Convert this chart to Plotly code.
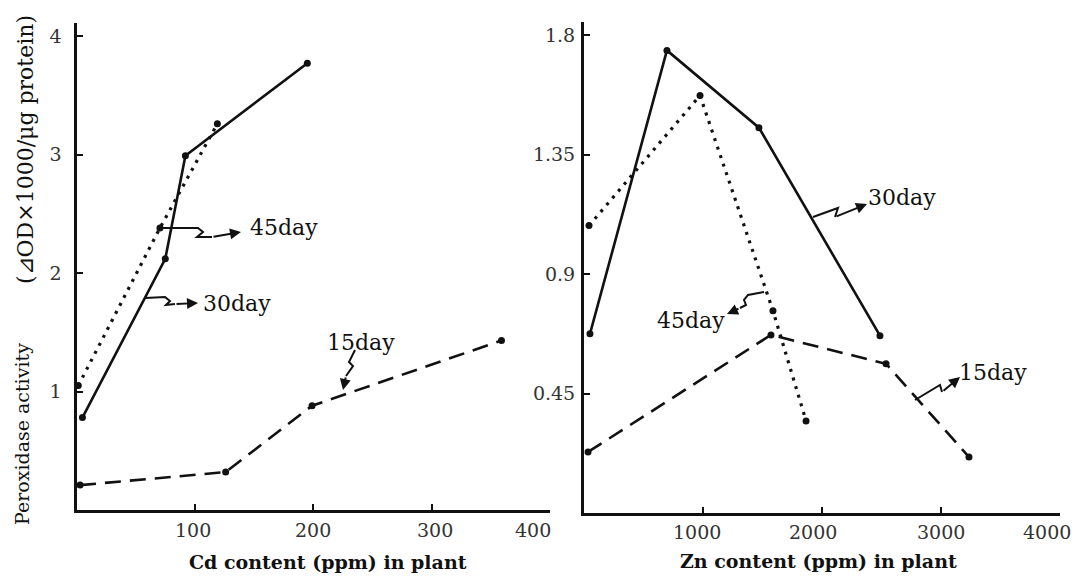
import plotly.graph_objects as go

# ---------------- data ----------------
cd_30_x = [5, 75, 92, 195]
cd_30_y = [0.78, 2.12, 2.99, 3.77]
cd_45_x = [1.5, 70.5, 119]
cd_45_y = [1.05, 2.38, 3.26]
cd_15_x = [3, 126, 199, 359]
cd_15_y = [0.21, 0.32, 0.88, 1.43]

zn_30_x = [50, 697, 1470, 2487]
zn_30_y = [0.675, 1.743, 1.452, 0.668]
zn_45_x = [42, 975, 1588, 1866]
zn_45_y = [1.083, 1.573, 0.762, 0.347]
zn_15_x = [34, 1571, 2538, 3235]
zn_15_y = [0.230, 0.671, 0.562, 0.211]

cd_ticks = [100, 200, 300, 400]
cd_ticktext = ["100", "200", "300", "400"]
cd_yticks = [1, 2, 3, 4]
cd_yticktext = ["1", "2", "3", "4"]
zn_ticks = [1000, 2000, 3000, 4000]
zn_ticktext = ["1000", "2000", "3000", "4000"]
zn_yticks = [0.45, 0.9, 1.35, 1.8]
zn_yticktext = ["0.45", "0.9", "1.35", "1.8"]

series_labels = ["15day", "30day", "45day"]

# ---------------- geometry ----------------
# the page body has an 8px margin: keep the whole figure inside the window
OX, OY = 8, 8
W, H = 1081 - 2 * OX, 581 - 2 * OY

# horizontal nudges (px) of the x tick labels, as printed in the original
cd_label_shift = [-2, 0, 3, -17]
zn_label_shift = [-6, -9, 0, -13]


def fx(px):
    return (px - OX) / W


def fy(py):
    return 1 - (py - OY) / H


def P(px, py):
    return fx(px), fy(py)


FONT = "DejaVu Serif"
INK = "#111"
TICKFONT = dict(family=FONT, size=19, color="#333")

fig = go.Figure()

solid = dict(color=INK, width=2.6)
dotted = dict(color=INK, width=3.2, dash="3px,6px")
dashed = dict(color=INK, width=2.6, dash="16px,9px")
mk = dict(color=INK, size=7)

fig.add_trace(go.Scatter(x=cd_15_x, y=cd_15_y, mode="lines+markers", line=dashed,
                         marker=mk, name=series_labels[0], xaxis="x", yaxis="y"))
fig.add_trace(go.Scatter(x=cd_30_x, y=cd_30_y, mode="lines+markers", line=solid,
                         marker=mk, name=series_labels[1], xaxis="x", yaxis="y"))
fig.add_trace(go.Scatter(x=cd_45_x, y=cd_45_y, mode="lines+markers", line=dotted,
                         marker=mk, name=series_labels[2], xaxis="x", yaxis="y"))

fig.add_trace(go.Scatter(x=zn_15_x, y=zn_15_y, mode="lines+markers", line=dashed,
                         marker=mk, name=series_labels[0], xaxis="x2", yaxis="y2"))
fig.add_trace(go.Scatter(x=zn_30_x, y=zn_30_y, mode="lines+markers", line=solid,
                         marker=mk, name=series_labels[1], xaxis="x2", yaxis="y2"))
fig.add_trace(go.Scatter(x=zn_45_x, y=zn_45_y, mode="lines+markers", line=dotted,
                         marker=mk, name=series_labels[2], xaxis="x2", yaxis="y2"))

axis_common = dict(
    showline=True, linecolor=INK, linewidth=3, showgrid=False, zeroline=False,
    ticks="inside", ticklen=6, tickwidth=2, tickcolor=INK,
    tickfont=TICKFONT,
)

fig.update_layout(
    width=W, height=H,
    margin=dict(l=0, r=0, t=0, b=0),
    paper_bgcolor="white", plot_bgcolor="white",
    showlegend=False,
    xaxis=dict(domain=[fx(76.5), fx(550)], range=[0, 400], anchor="y",
               tickvals=cd_ticks, showticklabels=False, **axis_common),
    yaxis=dict(domain=[fy(510), fy(23)], range=[0, 4.11], anchor="x",
               tickvals=cd_yticks, ticktext=cd_yticktext, ticklabelstandoff=8, **axis_common),
    xaxis2=dict(domain=[fx(584), fx(1060)], range=[0, 4000], anchor="y2",
                tickvals=zn_ticks, showticklabels=False, **axis_common),
    yaxis2=dict(domain=[fy(513), fy(22)], range=[0, 1.85], anchor="x2",
                tickvals=zn_yticks, ticktext=zn_yticktext, ticklabelstandoff=2, **axis_common),
)

annotations = []
shapes = []

# x tick labels, placed on the axes' own scales
for xref, vals, texts, shifts, py in (("x", cd_ticks, cd_ticktext, cd_label_shift, 530),
                                      ("x2", zn_ticks, zn_ticktext, zn_label_shift, 532)):
    for v, t, s in zip(vals, texts, shifts):
        annotations.append(dict(
            text=t, x=v, y=fy(py), xref=xref, yref="paper", showarrow=False,
            xanchor="center", yanchor="middle", xshift=s, font=TICKFONT))


def text_at(txt, px, py, size=22, xanchor="left", angle=0, bold=False):
    x, y = P(px, py)
    annotations.append(dict(
        text=f"<b>{txt}</b>" if bold else txt, x=x, y=y, xref="paper", yref="paper",
        showarrow=False, xanchor=xanchor, yanchor="middle", textangle=angle,
        font=dict(family=FONT, size=size, color=INK)))


def squiggle(points, head):
    """polyline through pixel points, then an arrow from last point to head"""
    path = ""
    for i, (px, py) in enumerate(points):
        x, y = P(px, py)
        path += ("M" if i == 0 else "L") + f"{x},{y} "
    shapes.append(dict(type="path", path=path.strip(), xref="paper", yref="paper",
                       line=dict(color=INK, width=2)))
    lx, ly = points[-1]
    hx, hy = P(*head)
    annotations.append(dict(
        text="", x=hx, y=hy, xref="paper", yref="paper", showarrow=True,
        ax=lx - head[0], ay=ly - head[1], arrowhead=2, arrowsize=1.1,
        arrowwidth=2, arrowcolor=INK, standoff=0, startstandoff=0))


# left panel labels
squiggle([(160, 228), (198, 228), (203, 232), (197, 237), (212, 237)], (241, 232))
text_at(series_labels[2], 248, 228)
squiggle([(145, 298), (165, 297), (170, 301), (166, 305), (175, 304)], (198, 303))
text_at(series_labels[1], 201, 303)
squiggle([(355, 350), (349, 362), (353, 366), (346, 376)], (343, 390))
text_at(series_labels[0], 325, 342)

# right panel labels
squiggle([(764, 292), (748, 295), (744, 300), (746, 305), (740, 308)], (727, 314))
text_at(series_labels[2], 655, 320)
squiggle([(813, 217), (838, 208), (835, 217)], (867, 204))
text_at(series_labels[1], 866, 197)
squiggle([(915, 400), (940, 385), (942, 392)], (960, 377))
text_at(series_labels[0], 957, 372)

# axis titles
text_at("Cd content (ppm) in plant", 328, 562, size=19, xanchor="center", bold=True)
text_at("Zn content (ppm) in plant", 818, 561, size=19, xanchor="center", bold=True)
text_at("Peroxidase activity", 22, 434, size=19, xanchor="center", angle=-90)
text_at("(⊿OD×1000/μg protein)", 25, 150, size=22, xanchor="center", angle=-90)

fig.update_layout(annotations=annotations, shapes=shapes)

fig.write_html("out.html")
